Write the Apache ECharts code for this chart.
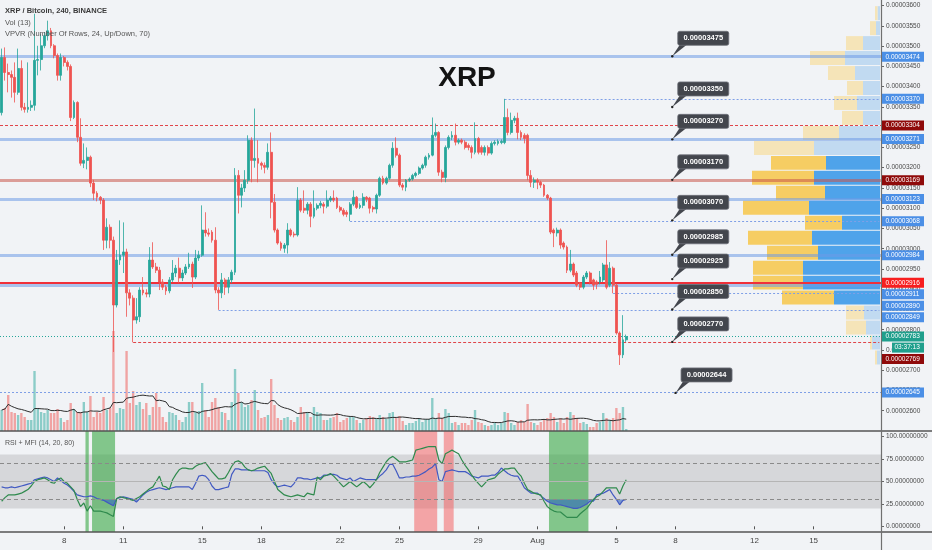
<!DOCTYPE html>
<html><head><meta charset="utf-8">
<script src="https://cdn.jsdelivr.net/npm/echarts@6/dist/echarts.min.js"></script>
<style>html,body{margin:0;padding:0;background:#f1f3f6}#c{width:932px;height:550px}</style>
</head><body><div id="c"></div>
<script>
// ---------------- DATA (prices in satoshi = 1e-8 BTC) ----------------
// candles: [open, close, low, high], 4h bars starting 2019-07-04 20:00
const candles = [
[3336,3472,3329,3494],[3472,3435,3415,3497],[3435,3430,3386,3457],[3430,3423,3373,3440],[3423,3386,3361,3460],
[3386,3445,3380,3494],[3445,3349,3341,3465],[3349,3344,3336,3360],[3344,3349,3336,3460],[3349,3354,3340,3366],
[3354,3465,3341,3580],[3465,3467,3428,3501],[3467,3501,3440,3530],[3501,3526,3495,3535],[3526,3538,3514,3563],
[3538,3501,3495,3545],[3501,3477,3470,3505],[3477,3428,3415,3482],[3428,3472,3415,3482],[3472,3460,3450,3476],
[3460,3450,3440,3465],[3450,3324,3315,3455],[3324,3361,3320,3366],[3361,3275,3263,3364],[3275,3211,3205,3322],
[3211,3218,3199,3260],[3218,3226,3196,3250],[3226,3162,3152,3230],[3162,3137,3120,3170],[3137,3127,3117,3142],
[3127,3120,3110,3130],[3120,3021,2997,3125],[3021,3053,3001,3075],[3053,3021,3001,3060],[3021,2861,2745,3030],
[2861,2972,2855,2997],[2972,2984,2960,3070],[2984,2992,2940,3065],[2992,2891,2832,3000],[2891,2878,2860,2900],
[2878,2824,2769,2885],[2824,2832,2815,2878],[2832,2898,2819,2905],[2898,2891,2885,2930],[2891,2888,2880,2900],
[2888,2972,2880,3004],[2972,2955,2950,3016],[2955,2947,2940,2965],[2947,2918,2898,2955],[2918,2905,2898,2925],
[2905,2896,2886,2910],[2896,2923,2890,2930],[2923,2940,2918,2972],[2940,2952,2930,2960],[2952,2928,2915,2978],
[2928,2940,2920,2948],[2940,2955,2935,2962],[2955,2962,2950,2990],[2962,2930,2903,2968],[2930,2977,2925,2997],
[2977,2984,2970,2995],[2984,3046,2980,3107],[3046,3039,3030,3090],[3039,3036,3030,3050],[3041,3021,3015,3046],
[3021,2898,2890,3053],[2898,2891,2849,2905],[2891,2923,2878,2940],[2923,2905,2886,2928],[2905,2923,2890,2930],
[2923,2942,2915,2948],[2942,3181,2935,3199],[3181,3132,3087,3194],[3132,3150,3102,3160],[3150,3169,3140,3194],
[3169,3268,3160,3280],[3268,3218,3164,3275],[3218,3223,3200,3346],[3223,3211,3164,3268],[3211,3206,3195,3215],
[3206,3201,3186,3213],[3201,3238,3195,3260],[3238,3115,3075,3287],[3115,3046,3040,3135],[3046,3014,3010,3050],
[3014,3001,2995,3018],[3001,3009,2990,3014],[3009,3046,2988,3063],[3046,3034,3030,3050],[3036,3034,3028,3042],
[3034,3120,3030,3152],[3120,3095,3090,3125],[3100,3095,3088,3144],[3095,3110,3085,3115],[3110,3080,3053,3115],
[3080,3100,3075,3144],[3100,3107,3095,3112],[3107,3112,3100,3118],[3110,3105,3087,3115],[3105,3120,3100,3144],
[3120,3125,3115,3130],[3125,3120,3115,3144],[3125,3102,3098,3128],[3102,3095,3090,3106],[3095,3085,3080,3100],
[3090,3085,3078,3095],[3085,3110,3068,3115],[3110,3127,3105,3144],[3127,3102,3098,3130],[3102,3107,3098,3112],
[3107,3127,3100,3137],[3127,3122,3115,3130],[3125,3100,3087,3128],[3102,3098,3090,3106],[3098,3132,3087,3136],
[3132,3174,3128,3178],[3174,3162,3158,3180],[3162,3174,3158,3178],[3174,3206,3170,3210],[3206,3248,3200,3263],
[3248,3231,3225,3275],[3231,3157,3152,3235],[3157,3152,3144,3162],[3152,3169,3142,3172],[3169,3172,3165,3176],
[3172,3181,3168,3185],[3181,3186,3176,3190],[3186,3199,3182,3203],[3199,3206,3195,3210],[3206,3226,3200,3230],
[3226,3231,3220,3236],[3231,3280,3228,3324],[3280,3287,3275,3309],[3287,3189,3180,3290],[3189,3176,3164,3195],
[3176,3250,3164,3255],[3250,3275,3245,3280],[3275,3280,3268,3290],[3280,3263,3255,3309],[3263,3268,3258,3272],
[3268,3263,3258,3272],[3263,3250,3245,3268],[3255,3250,3243,3260],[3250,3238,3223,3255],[3238,3272,3233,3312],
[3272,3238,3233,3276],[3250,3238,3232,3255],[3238,3250,3230,3255],[3250,3236,3230,3255],[3236,3260,3232,3265],
[3260,3263,3255,3268],[3260,3265,3255,3270],[3262,3265,3258,3270],[3262,3324,3258,3370],[3324,3287,3280,3346],
[3287,3317,3282,3336],[3317,3322,3310,3328],[3322,3287,3270,3336],[3287,3275,3268,3292],[3280,3272,3260,3285],
[3280,3181,3169,3284],[3181,3164,3152,3194],[3164,3169,3150,3176],[3169,3164,3147,3174],[3164,3157,3150,3168],
[3157,3132,3128,3160],[3132,3125,3120,3135],[3125,3041,3036,3128],[3046,3039,3004,3050],[3039,3046,3030,3052],
[3046,3009,3000,3050],[3014,3004,2998,3018],[3004,2947,2940,3008],[2947,2962,2942,2997],[2962,2935,2930,2966],
[2940,2910,2905,2945],[2915,2905,2898,2918],[2905,2930,2900,2935],[2930,2940,2925,2945],[2940,2918,2912,2944],
[2923,2910,2898,2926],[2918,2912,2900,2922],[2918,2930,2912,2945],[2923,2960,2918,2965],[2960,2905,2900,3021],
[2910,2952,2905,2967],[2952,2910,2890,2956],[2910,2792,2788,2914],[2792,2738,2713,2796],[2738,2775,2730,2836],
[2775,2783,2770,2788]
];
// volume per bar (relative units)
const volumes = [
21,23,36,19,18,16,18,14,11,11, 60,23,19,18,21,18,18,22,13,9, 11,28,22,19,19,29,19,35,14,19,
18,34,21,23,100,18,23,22,80,28, 40,26,29,22,28,16,24,38,24,14, 9,19,18,16,11,9,14,29,29,19,
20,48,21,14,29,33,24,19,18,11, 29,62,38,29,24,26,31,41,21,13, 14,16,52,26,13,11,13,14,11,9,
14,24,19,19,14,24,19,18,11,11, 13,14,18,9,11,13,14,14,11,8, 11,13,15,14,12,16,14,12,18,19,
13,15,10,6,8,8,10,13,9,12, 12,33,13,18,13,22,18,8,9,6, 8,8,6,11,21,9,8,6,5,6,
8,6,8,19,18,8,6,9,11,9, 27,9,8,6,9,12,13,18,14,9, 13,8,14,19,16,13,8,9,7,4,
4,8,9,18,13,11,13,23,18,24, 2
];
const rsi = [
44,43,43,44,43,44,45,46,47,48, 52,53,54,55,54,52,50,54,51,48, 46,43,39,35,34,33,33,34,33,31,
30,29,27,25,23,31,32,33,32,31, 30,27,31,35,38,40,41,42,43,42, 41,42,43,44,44,44,44,44,41,48,
56,57,56,52,45,41,41,42,43,44, 58,64,64,63,63,63,62,62,62,62, 62,60,52,47,44,45,46,45,44,48,
54,54,53,53,52,53,54,54,57,57, 58,58,57,54,53,52,54,50,52,54, 53,52,52,52,52,56,59,63,69,69,
62,54,54,55,55,56,56,57,59,61, 64,66,70,52,50,61,62,63,62,61, 61,61,59,56,55,54,56,56,56,57,
57,60,65,62,59,57,56,56,50,43, 40,37,37,37,34,31,28,26,25,24, 24,23,22,21,20,20,21,23,25,28,
28,35,36,37,39,41,35,30,24,29, 30
];
const mfi = [
28,32,35,35,35,36,37,39,41,45, 50,52,53,54,52,49,48,52,54,50, 48,44,40,30,22,26,17,23,17,17,
17,16,15,13,11,31,33,32,31,30, 29,31,33,36,39,42,44,50,56,45, 44,41,52,58,63,65,65,64,64,67,
69,70,71,66,61,57,53,53,54,60, 67,72,73,71,66,63,62,63,65,66, 67,63,59,50,41,38,35,34,33,34,
35,34,33,37,36,35,55,52,56,57, 59,56,52,48,44,47,50,47,44,47, 50,47,43,47,52,60,66,72,76,78,
75,72,72,72,73,74,85,86,87,88, 89,89,89,74,70,81,83,85,83,81, 74,68,63,57,52,48,44,48,52,53,
54,58,61,64,64,65,65,60,56,48, 41,39,37,36,35,28,22,19,17,16, 16,13,10,10,10,10,14,17,20,25,
30,33,35,39,43,43,43,43,36,45, 52
];
// Volume profile (24 rows, top row first): up volume, down volume
const vpvrUp   = [2.5,4,17,35,25,17,23,17,41,66,54,66,55,71,38,68,62,77,77,46,16,14,8,3];
const vpvrDown = [2.5,6,17,35,27,16,23,21,36,60,55,62,49,66,37,64,51,50,50,52,18,20,2,2];
const vpvrInValueArea = [0,0,0,0,0,0,0,0,0,0,1,1,1,1,1,1,1,1,1,1,0,0,0,0];
const vpvrLow = 2713, vpvrHigh = 3600;
// Horizontal levels
const levelPrices = [3474,3370,3304,3271,3169,3123,3068,2984,2916,2911,2890,2849,2783,2769,2645];
const levelKinds  = ['zone','ray','alert','zone','zoneRed','zone','ray','zone','lineRed','zone','ray','ray','last','alert','ray'];
const levelStartBar = [null,153,null,null,null,null,106,null,null,null,186,66,null,40,null];
// Callout labels
const calloutPrices = [3475,3350,3270,3170,3070,2985,2925,2850,2770,2644];
// RSI+MFI highlight periods [first bar, last bar, type]
const oscBands = [[26,26,'os'],[28,34,'os'],[126,132,'ob'],[135,137,'ob'],[167,178,'os']];
// Axis ticks
const priceTicks = [2600,2650,2700,2750,2800,2850,2900,2950,3000,3050,3100,3150,3200,3250,3300,3350,3400,3450,3500,3550,3600];
const oscTicks = [0,25,50,75,100];
const tickDates  = ['2019-07-08','2019-07-11','2019-07-15','2019-07-18','2019-07-22','2019-07-25','2019-07-29','2019-08-01','2019-08-05','2019-08-08','2019-08-12','2019-08-15'];
const tickLabels = ['8','11','15','18','22','25','29','Aug','5','8','12','15'];
const countdownText = '03:37:13';

// ---------------- LAYOUT ----------------
const N = 268;                 // bar slots incl. empty future space
const PLOT_W = 881;
const PMIN = 2550, PMAX = 3614;
const OMIN = -6.33, OMAX = 106.33;
const FONT = '"Liberation Sans", Arial, sans-serif';
const startMs = Date.UTC(2019, 6, 4, 20);
const cats = [];
for (let i = 0; i < N; i++) {
  const d = new Date(startMs + i * 4 * 3600e3);
  cats.push(d.toISOString().slice(0, 13).replace('T', ' '));
}
const tickMap = {};
tickDates.forEach((d, j) => { tickMap[d + ' 00'] = tickLabels[j]; });
const showTick = (idx, val) => tickMap[val] !== undefined;

function sma(arr, n) {
  return arr.map((_, i) => { const s = Math.max(0, i - n + 1); let t = 0; for (let j = s; j <= i; j++) t += arr[j]; return +(t / (i - s + 1)).toFixed(2); });
}
const UP = '#26a69a', DOWN = '#ef5350';
const volData = volumes.map((v, i) => ({ value: v, itemStyle: { color: candles[i][1] >= candles[i][0] ? 'rgba(38,166,154,0.5)' : 'rgba(239,83,80,0.5)' } }));

const lineStyles = {
  zone:    { color: 'rgba(110,155,230,0.55)', width: 3, type: 'solid' },
  zoneRed: { color: 'rgba(200,85,75,0.55)', width: 3, type: 'solid' },
  lineRed: { color: '#f0303a', width: 2, type: 'solid' },
  ray:     { color: '#7f9fe6', width: 1, type: [2, 2] },
  alert:   { color: '#e0454a', width: 1, type: [3, 2] },
  last:    { color: '#26a69a', width: 1, type: [1, 2] }
};
const tagColors = { zone: '#4b8fe6', ray: '#4b8fe6', zoneRed: '#8f0a0a', alert: '#8f0a0a', lineRed: '#f71e1e', last: '#1f9f8c' };

const markData = levelPrices.map((p, i) => {
  const ls = lineStyles[levelKinds[i]];
  if (levelStartBar[i] === null) return { yAxis: p, lineStyle: ls };
  return [{ coord: [cats[levelStartBar[i]], p], lineStyle: ls }, { coord: [cats[N - 1], p] }];
});

const vpStep = (vpvrHigh - vpvrLow) / 24;
const vpRows = vpvrUp.map((u, r) => {
  const hi = vpvrHigh - r * vpStep;
  return [hi, hi - vpStep, u, u + vpvrDown[r], vpvrInValueArea[r]];
});

const chart = echarts.init(document.getElementById('c'));
const hidX = (gi) => ({ type: 'category', gridIndex: gi, data: cats, boundaryGap: true, axisLine: { show: false }, axisTick: { show: false }, axisLabel: { show: false }, splitLine: { show: false } });

chart.setOption({
  animation: false,
  backgroundColor: '#f1f3f6',
  textStyle: { fontFamily: FONT },
  grid: [
    { left: 0, top: 0, width: PLOT_W, height: 431 },
    { left: 0, top: 331, width: PLOT_W, height: 100 },
    { left: 0, top: 431, width: PLOT_W, height: 101 },
    { left: 0, top: 0, width: 880, height: 431 }
  ],
  xAxis: [
    hidX(0), hidX(1),
    { type: 'category', gridIndex: 2, data: cats, boundaryGap: true,
      axisLine: { show: false }, splitLine: { show: false },
      axisTick: { show: true, interval: showTick, alignWithLabel: true, length: 3, lineStyle: { color: '#555' } },
      axisLabel: { show: true, interval: showTick, formatter: v => tickMap[v] || '', fontSize: 8, color: '#444', margin: 5, fontFamily: FONT } },
    { type: 'value', gridIndex: 3, min: 0, max: 880, inverse: true, show: false }
  ],
  yAxis: [
    { type: 'value', gridIndex: 0, position: 'right', min: PMIN, max: PMAX, splitLine: { show: false }, axisLine: { show: false },
      axisTick: { show: true, length: 3, customValues: priceTicks, lineStyle: { color: '#666' } },
      axisLabel: { customValues: priceTicks, formatter: v => (v / 1e8).toFixed(8), fontSize: 6.5, color: '#4a4a4a', margin: 5, fontFamily: FONT } },
    { type: 'value', gridIndex: 1, min: 0, max: 100, show: false },
    { type: 'value', gridIndex: 2, position: 'right', min: OMIN, max: OMAX, splitLine: { show: false }, axisLine: { show: false },
      axisTick: { show: true, length: 3, customValues: oscTicks, lineStyle: { color: '#666' } },
      axisLabel: { customValues: oscTicks, formatter: v => v.toFixed(8), fontSize: 6.5, color: '#4a4a4a', margin: 5, fontFamily: FONT } },
    { type: 'value', gridIndex: 3, min: PMIN, max: PMAX, show: false }
  ],
  series: [
    { type: 'custom', name: 'VPVR', xAxisIndex: 3, yAxisIndex: 3, z: 1, silent: true,
      encode: { x: [2, 3], y: [0, 1] }, data: vpRows,
      renderItem: (params, api) => {
        const a = api.coord([0, api.value(0)]);
        const b = api.coord([api.value(2), api.value(1)]);
        const c = api.coord([api.value(3), api.value(1)]);
        const va = api.value(4) === 1;
        const y0 = a[1] + 0.5, h = b[1] - a[1] - 1;
        return { type: 'group', children: [
          { type: 'rect', shape: { x: b[0], y: y0, width: a[0] - b[0], height: h }, style: { fill: va ? '#4fa3ea' : '#c1daf1' } },
          { type: 'rect', shape: { x: c[0], y: y0, width: b[0] - c[0], height: h }, style: { fill: va ? '#f6cd63' : '#f5e4b8' } }
        ] };
      } },
    { type: 'line', name: 'levels', xAxisIndex: 0, yAxisIndex: 0, z: 3, silent: true, showSymbol: false,
      data: candles.map(c => c[1]), lineStyle: { opacity: 0 },
      markLine: { symbol: ['none', 'none'], silent: true, label: { show: false }, animation: false, data: markData } },
    { type: 'candlestick', name: 'XRPBTC', xAxisIndex: 0, yAxisIndex: 0, z: 5, barWidth: '72%', data: candles,
      itemStyle: { color: UP, color0: DOWN, borderColor: UP, borderColor0: DOWN, borderWidth: 0.8 } },
    { type: 'bar', name: 'Vol', xAxisIndex: 1, yAxisIndex: 1, z: 2, barWidth: '72%', data: volData },
    { type: 'line', name: 'Vol MA', xAxisIndex: 1, yAxisIndex: 1, z: 4, showSymbol: false, data: sma(volumes, 13),
      lineStyle: { color: '#2e2e2e', width: 1 } },
    { type: 'custom', name: 'bands', xAxisIndex: 2, yAxisIndex: 2, z: 1, silent: true, data: oscBands,
      encode: { x: [0, 1] },
      renderItem: (params, api) => {
        const bw = api.size([1, 0])[0];
        const p0 = api.coord([api.value(0), OMAX]);
        const p1 = api.coord([api.value(1), OMIN]);
        const d = oscBands[params.dataIndex];
        return { type: 'rect', shape: { x: p0[0] - bw / 2, y: p0[1], width: p1[0] - p0[0] + bw, height: p1[1] - p0[1] },
          style: { fill: d[2] === 'os' ? 'rgba(62,170,72,0.62)' : 'rgba(245,85,85,0.5)' } };
      } },
    { type: 'line', name: 'rsiBase', xAxisIndex: 2, yAxisIndex: 2, stack: 'low', z: 2, silent: true, showSymbol: false,
      data: rsi.map(v => Math.min(v, 30)), lineStyle: { opacity: 0 } },
    { type: 'line', name: 'rsiFill', xAxisIndex: 2, yAxisIndex: 2, stack: 'low', z: 2, silent: true, showSymbol: false,
      data: rsi.map(v => 30 - Math.min(v, 30)), lineStyle: { opacity: 0 }, areaStyle: { color: 'rgba(45,100,200,0.55)', opacity: 1 } },
    { type: 'line', name: 'RSI', xAxisIndex: 2, yAxisIndex: 2, z: 4, showSymbol: false, data: rsi,
      lineStyle: { color: '#4159c2', width: 1.2 },
      markArea: { silent: true, itemStyle: { color: 'rgba(120,120,120,0.22)' }, data: [[{ yAxis: 20 }, { yAxis: 80 }]] },
      markLine: { symbol: ['none', 'none'], silent: true, label: { show: false }, data: [
        { yAxis: 70, lineStyle: { color: '#8a8a8a', width: 1, type: [4, 3] } },
        { yAxis: 30, lineStyle: { color: '#8a8a8a', width: 1, type: [4, 3] } },
        { yAxis: 50, lineStyle: { color: '#b5b5b5', width: 1, type: 'solid' } }
      ] } },
    { type: 'line', name: 'MFI', xAxisIndex: 2, yAxisIndex: 2, z: 4, showSymbol: false, data: mfi,
      lineStyle: { color: '#2f8a4d', width: 1.2 } }
  ]
});

// ---------------- overlays (positions via the chart's own scales) ----------------
const g = [];
g.push({ type: 'line', shape: { x1: 0, y1: 431, x2: 932, y2: 431 }, style: { stroke: '#555', lineWidth: 1.5 }, z: 50 });
g.push({ type: 'line', shape: { x1: 0, y1: 532, x2: 932, y2: 532 }, style: { stroke: '#555', lineWidth: 1.5 }, z: 50 });
g.push({ type: 'line', shape: { x1: 881.5, y1: 0, x2: 881.5, y2: 550 }, style: { stroke: '#707070', lineWidth: 1.2 }, z: 50 });
const txt = (x, y, s, font, fill, align, z) => ({ type: 'text', x, y, z: z || 60, style: { text: s, font, fill, textAlign: align || 'left', textVerticalAlign: 'middle' } });
g.push(txt(5, 11, 'XRP / Bitcoin, 240, BINANCE', 'bold 7.5px ' + FONT, '#3a3a3a'));
g.push(txt(5, 23, 'Vol (13)', '7.5px ' + FONT, '#555'));
g.push(txt(5, 34, 'VPVR (Number Of Rows, 24, Up/Down, 70)', '7.5px ' + FONT, '#555'));
g.push(txt(5, 443, 'RSI + MFI (14, 20, 80)', '7px ' + FONT, '#555'));
g.push(txt(467, 78, 'XRP', 'bold 28px ' + FONT, '#131313', 'center'));

// right-side price tags with de-overlap
const tagList = levelPrices.map((p, i) => ({ p, kind: levelKinds[i], y: chart.convertToPixel({ gridIndex: 0 }, [0, p])[1] }))
  .sort((a, b) => a.y - b.y);
let prevY = -100;
tagList.forEach(t => {
  let y = Math.max(t.y, prevY + 11.5);
  prevY = y;
  const col = tagColors[t.kind];
  g.push({ type: 'rect', z: 70, shape: { x: 882, y: y - 5, width: 42, height: 10 }, style: { fill: col } });
  g.push(txt(885.5, y, (t.p / 1e8).toFixed(8), '6.5px ' + FONT, '#fff', 'left', 75));
  if (t.kind === 'last') {
    const cy = y + 11;
    prevY = cy;
    g.push({ type: 'rect', z: 70, shape: { x: 892, y: cy - 5, width: 32, height: 10 }, style: { fill: col } });
    g.push(txt(894.5, cy, countdownText, '6.5px ' + FONT, '#fff', 'left', 75));
  }
});

// callouts
calloutPrices.forEach((p, i) => {
  const idx = i === calloutPrices.length - 1 ? 205 : 204;
  const [tx, ty] = chart.convertToPixel({ gridIndex: 0 }, [idx, p]);
  const bx = tx + 5.5, by = ty - 25, bw = 51, bh = 14;
  g.push({ type: 'polygon', z: 80, shape: { points: [[tx, ty], [bx + 2, by + bh - 0.5], [bx + 9, by + bh - 0.5]] }, style: { fill: '#43464d' } });
  g.push({ type: 'rect', z: 81, shape: { x: bx, y: by, width: bw, height: bh, r: 2 }, style: { fill: '#43464d', stroke: '#6d7078', lineWidth: 0.8 } });
  g.push({ type: 'text', z: 82, x: bx + bw / 2, y: by + bh / 2, style: { text: (p / 1e8).toFixed(8), font: 'bold 7.5px ' + FONT, fill: '#fff', textAlign: 'center', textVerticalAlign: 'middle' } });
  g.push({ type: 'circle', z: 82, shape: { cx: tx, cy: ty, r: 1.2 }, style: { fill: '#222' } });
});
chart.setOption({ graphic: { elements: g } });
</script>
</body></html>
